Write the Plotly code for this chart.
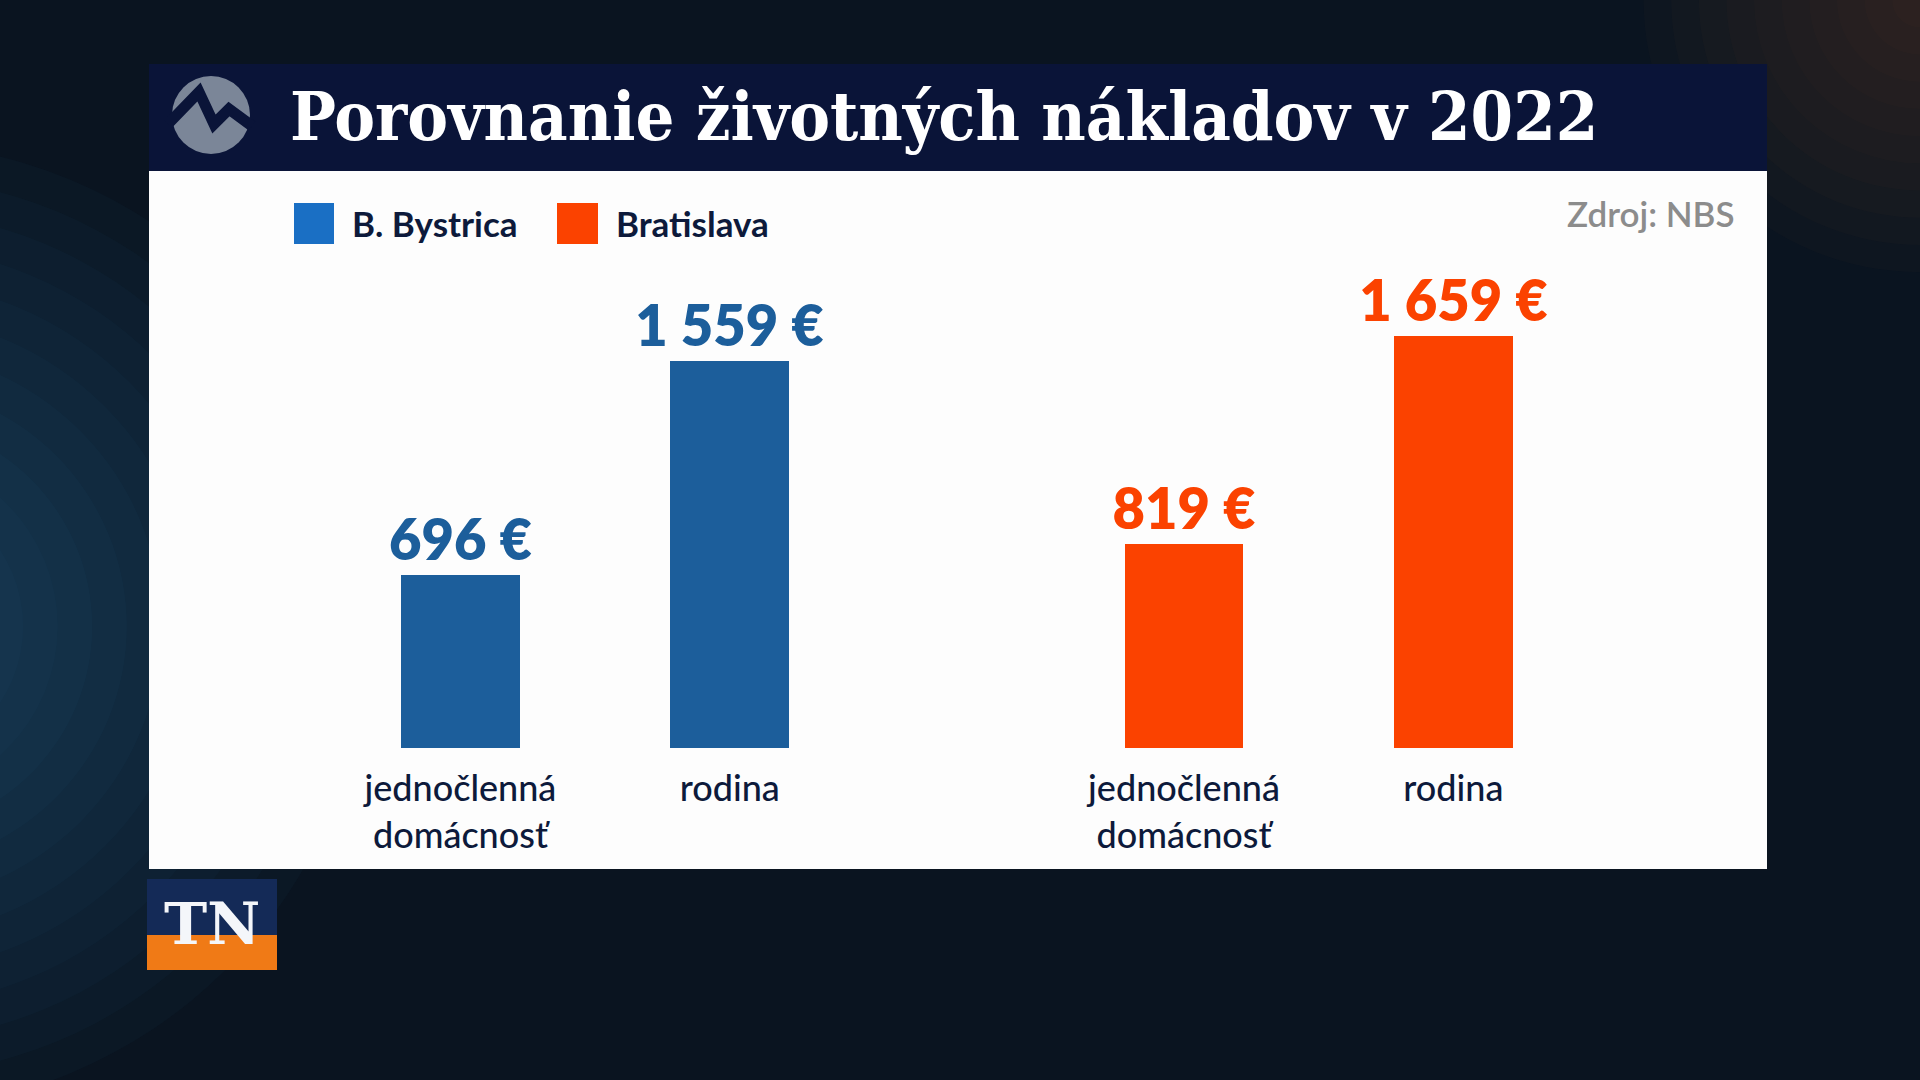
import plotly.graph_objects as go

# data
categories = ["jednočlenná<br>domácnosť", "rodina"]
cities = ["B. Bystrica", "Bratislava"]
bystrica_values = [696, 1559]
bratislava_values = [819, 1659]
title_text = "Porovnanie životných nákladov v 2022"
source_text = "Zdroj: NBS"

BLUE = "#1c5e9b"
BLUE_KEY = "#1a6fc4"
ORANGE = "#fb4200"
NAVY = "#0d1a3b"
BAR_NAVY = "#0a1438"

W, H = 1920, 1080

# bar positions: two bars per city, second city shifted right
group_shift = 2.686
x_bb = [0, 1]
x_ba = [group_shift, group_shift + 1]
bar_w = 0.441


def px(x):
    return x / W


def py(y):
    return 1 - y / H


fig = go.Figure()
for name, xs, vals, col in [
    (cities[0], x_bb, bystrica_values, BLUE),
    (cities[1], x_ba, bratislava_values, ORANGE),
]:
    fig.add_trace(go.Bar(
        name=name,
        x=xs,
        y=vals,
        width=bar_w,
        marker=dict(color=col, line=dict(width=0)),
        texttemplate="%{y:,} €",
        textposition="outside",
        constraintext="none",
        cliponaxis=False,
        textfont=dict(family="Lato", size=56, color=col, weight=800),
        hoverinfo="skip",
        showlegend=False,
    ))

shapes = []
# soft glows on the dark background (nested translucent circles)
for k in range(1, 15):
    r = 0.02 * k
    shapes.append(dict(type="circle", xref="paper", yref="paper",
                       x0=-0.06 - r * 0.9, x1=-0.06 + r * 0.9, y0=0.42 - r * 1.6, y1=0.42 + r * 1.6,
                       fillcolor="#2369a8", opacity=0.045, line_width=0, layer="below"))
for k in range(1, 11):
    r = 0.018 * k
    shapes.append(dict(type="circle", xref="paper", yref="paper",
                       x0=1.0 - r * 0.8, x1=1.0 + r * 0.8, y0=1.0 - r * 1.4, y1=1.0 + r * 1.4,
                       fillcolor="#7a5530", opacity=0.04, line_width=0, layer="below"))

shapes += [
    # title bar
    dict(type="rect", xref="paper", yref="paper", x0=px(149), x1=px(1767), y0=py(171), y1=py(64),
         fillcolor=BAR_NAVY, line_width=0, layer="below"),
    # white panel
    dict(type="rect", xref="paper", yref="paper", x0=px(149), x1=px(1767), y0=py(869), y1=py(171),
         fillcolor="#fdfdfd", line_width=0, layer="below"),
    # logo circle
    dict(type="circle", xref="paper", yref="paper", x0=px(172), x1=px(250), y0=py(154), y1=py(76),
         fillcolor="#7b8698", line_width=0, layer="below"),
    dict(type="path", xref="paper", yref="paper",
         path=f"M {px(168)} {py(124)} L {px(199)} {py(92)} L {px(214)} {py(124)} "
              f"L {px(229)} {py(109)} L {px(252)} {py(126)}",
         line=dict(color=BAR_NAVY, width=11), layer="below"),
    # legend keys
    dict(type="rect", xref="paper", yref="paper", x0=px(294), x1=px(334), y0=py(244), y1=py(203),
         fillcolor=BLUE_KEY, line_width=0, layer="below"),
    dict(type="rect", xref="paper", yref="paper", x0=px(557), x1=px(598), y0=py(244), y1=py(203),
         fillcolor=ORANGE, line_width=0, layer="below"),
    # TN logo
    dict(type="rect", xref="paper", yref="paper", x0=px(147), x1=px(277), y0=py(935), y1=py(879),
         fillcolor="#142a57", line_width=0, layer="below"),
    dict(type="rect", xref="paper", yref="paper", x0=px(147), x1=px(277), y0=py(970), y1=py(935),
         fillcolor="#f07a16", line_width=0, layer="below"),
]

annotations = [
    dict(text=title_text, xref="paper", yref="paper", x=px(288), y=py(116),
         xanchor="left", yanchor="middle", showarrow=False,
         font=dict(family="DejaVu Serif Condensed, DejaVu Serif", size=68, color="white", weight="bold")),
    dict(text=cities[0], xref="paper", yref="paper", x=px(350), y=py(223),
         xanchor="left", yanchor="middle", showarrow=False,
         font=dict(family="Lato", size=35, color=NAVY, weight="bold")),
    dict(text=cities[1], xref="paper", yref="paper", x=px(614), y=py(223),
         xanchor="left", yanchor="middle", showarrow=False,
         font=dict(family="Lato", size=35, color=NAVY, weight="bold")),
    dict(text=source_text, xref="paper", yref="paper", x=px(1737), y=py(213),
         xanchor="right", yanchor="middle", showarrow=False,
         font=dict(family="Lato", size=35, color="#8c8c8c", weight=600)),
    dict(text="TN", xref="paper", yref="paper", x=px(212), y=py(924),
         xanchor="center", yanchor="middle", showarrow=False,
         font=dict(family="DejaVu Serif", size=58, color="#f4f6fa", weight="bold")),
]

fig.update_layout(
    width=W,
    height=H,
    margin=dict(l=0, r=0, t=0, b=0),
    paper_bgcolor="#0a1420",
    plot_bgcolor="rgba(0,0,0,0)",
    separators=", ",
    bargap=0,
    shapes=shapes,
    annotations=annotations,
    xaxis=dict(
        range=[-1.709, 5.418],
        tickvals=x_bb + x_ba,
        ticktext=categories + categories,
        tickfont=dict(family="Lato", size=36, color=NAVY, weight=500),
        ticks="outside", ticklen=9, tickcolor="rgba(0,0,0,0)",
        showgrid=False, zeroline=False, showline=False,
        anchor="free", position=332 / H,
        fixedrange=True,
    ),
    yaxis=dict(range=[-1335, 3009], visible=False, fixedrange=True),
)

fig.write_html(
    "out.html",
    config={"displayModeBar": False},
    post_script="document.body.style.margin='0';document.body.style.overflow='hidden';",
)
